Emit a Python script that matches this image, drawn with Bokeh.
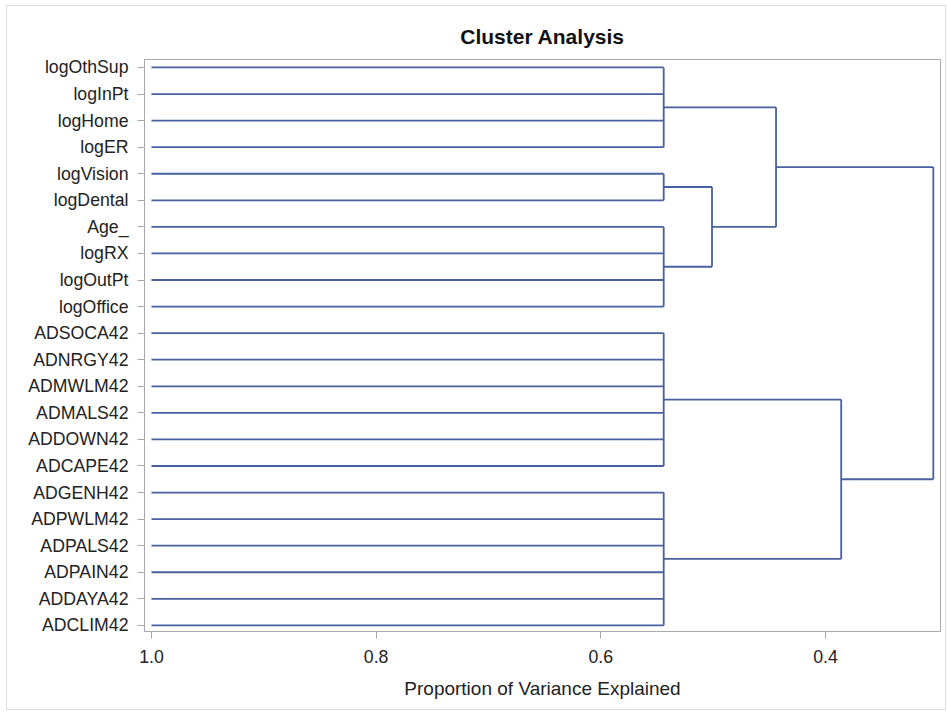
from bokeh.plotting import figure
from bokeh.models import Range1d, FixedTicker, ColumnDataSource
from bokeh.embed import file_html
from bokeh.resources import INLINE

# ---- data ----
leaf_names = ["logOthSup", "logInPt", "logHome", "logER", "logVision", "logDental",
              "Age_", "logRX", "logOutPt", "logOffice", "ADSOCA42", "ADNRGY42",
              "ADMWLM42", "ADMALS42", "ADDOWN42", "ADCAPE42", "ADGENH42", "ADPWLM42",
              "ADPALS42", "ADPAIN42", "ADDAYA42", "ADCLIM42"]
leaf_height = 1.0
# first-level clusters: (first leaf index, last leaf index)
group_first = [0, 4, 6, 10, 16]
group_last = [3, 5, 9, 15, 21]
group_height = [0.544, 0.544, 0.544, 0.544, 0.544]
# merges: child node a, child node b, height (nodes 0-4 are groups, new nodes numbered from 5)
merge_a = [1, 0, 3, 6]
merge_b = [2, 5, 4, 7]
merge_height = [0.501, 0.444, 0.386, 0.304]
x_ticks = [1.0, 0.8, 0.6, 0.4]
x_tick_labels = ["1.0", "0.8", "0.6", "0.4"]

# ---- build segments from data ----
x0, y0, x1, y1 = [], [], [], []
node_y, node_h = [], []
for gi in range(len(group_first)):
    for r in range(group_first[gi], group_last[gi] + 1):
        x0.append(leaf_height); y0.append(r); x1.append(group_height[gi]); y1.append(r)
    x0.append(group_height[gi]); y0.append(group_first[gi])
    x1.append(group_height[gi]); y1.append(group_last[gi])
    node_y.append((group_first[gi] + group_last[gi]) / 2.0)
    node_h.append(group_height[gi])
for a, b, h in zip(merge_a, merge_b, merge_height):
    for c in (a, b):
        x0.append(node_h[c]); y0.append(node_y[c]); x1.append(h); y1.append(node_y[c])
    x0.append(h); y0.append(node_y[a]); x1.append(h); y1.append(node_y[b])
    node_y.append((node_y[a] + node_y[b]) / 2.0)
    node_h.append(h)

src = ColumnDataSource(dict(x0=x0, y0=y0, x1=x1, y1=y1))

FONT = "Liberation Sans"
TXT = "#222222"
AX = "#a8a8a8"

p = figure(frame_width=796, frame_height=572, output_backend="svg", toolbar_location=None,
           x_range=Range1d(1.0062, 0.2976), y_range=Range1d(21.23, -0.3),
           min_border_left=137, min_border_right=5, min_border_top=53, min_border_bottom=78,
           title="Cluster Analysis")
p.styles = {"border": "1px solid #dddddd", "margin-left": "6px", "margin-top": "5px"}

p.segment(x0="x0", y0="y0", x1="x1", y1="y1", source=src, line_color="#47609f", line_width=1.8)

p.title.align = "center"
p.title.text_font = FONT
p.title.text_font_size = "21px"
p.title.text_font_style = "bold"
p.title.text_color = "#111111"
p.title.standoff = 24

p.xgrid.visible = False
p.ygrid.visible = False
p.outline_line_color = AX
p.outline_line_width = 1

xa = p.xaxis[0]
xa.ticker = FixedTicker(ticks=x_ticks)
xa.major_label_overrides = {t: s for t, s in zip(x_ticks, x_tick_labels)}
xa.axis_label = "Proportion of Variance Explained"
xa.axis_label_text_font = FONT
xa.axis_label_text_font_size = "19px"
xa.axis_label_text_font_style = "normal"
xa.axis_label_text_color = TXT
xa.axis_label_standoff = 12
xa.major_label_standoff = 11

ya = p.yaxis[0]
ya.ticker = FixedTicker(ticks=list(range(len(leaf_names))))
ya.major_label_overrides = {i: n for i, n in enumerate(leaf_names)}
ya.major_label_standoff = 9

for ax in (xa, ya):
    ax.major_label_text_font = FONT
    ax.major_label_text_font_size = "17.7px"
    ax.major_label_text_color = TXT
    ax.axis_line_color = AX
    ax.major_tick_line_color = AX
    ax.major_tick_in = 0
    ax.major_tick_out = 7
    ax.minor_tick_line_color = None

open("out.html", "w").write(file_html(p, INLINE))
